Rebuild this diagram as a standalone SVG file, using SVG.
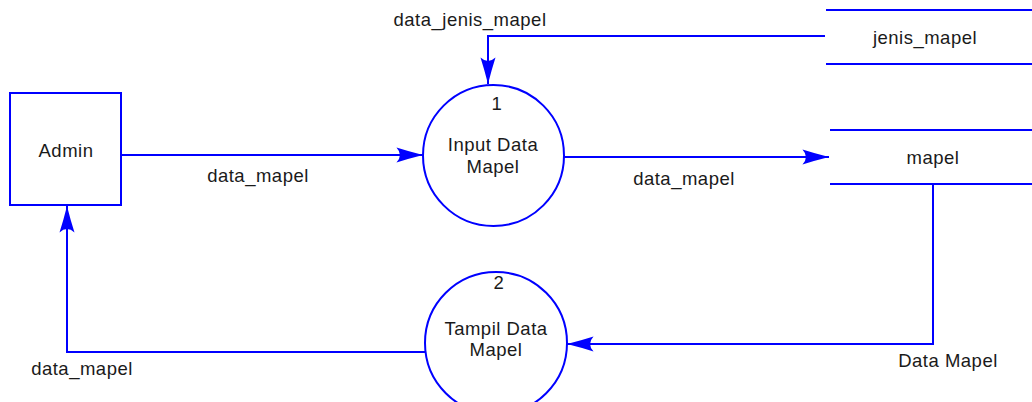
<svg xmlns="http://www.w3.org/2000/svg" width="1032" height="402" viewBox="0 0 1032 402">
<style>
.s{fill:none;stroke:#0000ff;stroke-width:2}
.n{fill:#ffffff;stroke:#0000ff;stroke-width:2}
.t{font-family:"Liberation Sans",Arial,sans-serif;font-size:18.5px;fill:#1a1a1a;text-anchor:middle;letter-spacing:0.5px}
</style>
<defs>
<marker id="a" markerUnits="userSpaceOnUse" markerWidth="30" markerHeight="20" viewBox="-24 -8 26 16" refX="0" refY="0" orient="auto">
<path d="M0,0 Q-12,-3 -23,-6.5 Q-17,0 -23,6.5 Q-12,3 0,0 Z" fill="#0000ff"/>
</marker>
</defs>
<rect width="1032" height="402" fill="#ffffff"/>
<g id="connectors">
<path class="s" d="M825,36 H488 V84" marker-end="url(#a)"/>
<path class="s" d="M121,155 H423" marker-end="url(#a)"/>
<path class="s" d="M564,157 H829" marker-end="url(#a)"/>
<path class="s" d="M933,184 V344 H567" marker-end="url(#a)"/>
<path class="s" d="M425,352 H67 V206" marker-end="url(#a)"/>
<text class="t" x="470" y="26">data_jenis_mapel</text>
<text class="t" x="258" y="182">data_mapel</text>
<text class="t" x="684" y="185">data_mapel</text>
<text class="t" x="948" y="367">Data Mapel</text>
<text class="t" x="82" y="375">data_mapel</text>
</g>
<g id="admin">
<rect class="n" x="10" y="93" width="111" height="112"/>
<text class="t" x="66" y="157">Admin</text>
</g>
<g id="p1">
<circle class="n" cx="493.5" cy="155.5" r="70.5"/>
<text class="t" x="497" y="110">1</text>
<text class="t" x="493" y="151">Input Data</text>
<text class="t" x="493" y="173">Mapel</text>
</g>
<g id="p2">
<circle class="n" cx="496" cy="343" r="71"/>
<text class="t" x="499" y="289">2</text>
<text class="t" x="496" y="335">Tampil Data</text>
<text class="t" x="496" y="356">Mapel</text>
</g>
<g id="jenis_mapel">
<path class="s" d="M826,10 H1032 M826,64 H1032"/>
<text class="t" x="925" y="44">jenis_mapel</text>
</g>
<g id="mapel">
<path class="s" d="M830,130 H1032 M830,184 H1032"/>
<text class="t" x="933" y="164">mapel</text>
</g>
</svg>
